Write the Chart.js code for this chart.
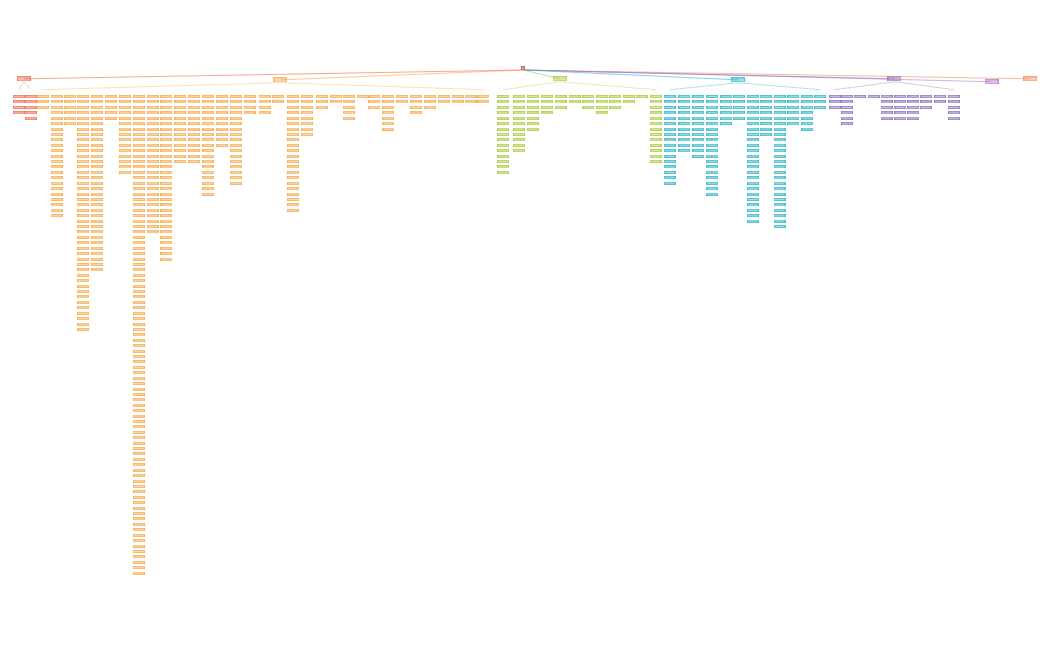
<!DOCTYPE html>
<html>
<head>
<meta charset="UTF-8">
<script src="https://cdn.jsdelivr.net/npm/chart.js"></script>
<style>
  html, body { margin: 0; background: #fff; }
  #wrap { width: 1050px; height: 650px; }
</style>
</head>
<body>
<div id="wrap"><canvas id="map"></canvas></div>
<script>
// branches of the mind map
const branchNames = ['Branch A', 'Branch B', 'Branch C', 'Branch D', 'Branch E', 'Branch F', 'Branch G'];
const branchColors = ['#f26b4f', '#f5a94a', '#a8c93a', '#2bb5c8', '#8a6fc0', '#b57bc7', '#f58a5a'];
const branchX = [19, 278, 560, 740, 898, 996, 1035];
const branchY = [75, 76, 75, 76, 75, 78, 75];
// columns under each branch: x position and number of leaf nodes
const colBranch = [0,0,
  1,1,1,1,1,1,1,1,1,1,1,1,1,1,1,1,1,1,1,1,1,1,1,1,1,1,1,1,1,1,1,1,1,
  2,2,2,2,2,2,2,2,2,2,2,2,
  3,3,3,3,3,3,3,3,3,3,3,3,
  4,4,4,4,4,4,4,4,4,4];
const colX = [14, 26,
  38,52,66,79,93,107,121,135,149,163,177,191,205,219,233,247,262,276,291,305,320,334,347,361,373,387,401,415,429,443,457,470,483,
  503,519,533,547,561,575,589,603,616,630,643,657,
  671,686,700,714,728,741,755,768,782,796,810,823,
  838,850,863,877,890,904,917,930,944,958];
const colCount = [3, 4,
  2,22,5,43,32,4,14,88,25,30,12,12,18,9,16,3,3,1,21,7,2,1,4,0,2,6,1,3,2,1,1,1,1,
  14,10,6,3,2,1,2,3,2,1,0,12,
  16,10,11,18,5,4,23,7,24,5,6,2,
  2,5,0,0,4,4,4,2,1,4];
const nodeStep = 5.5;
const nodeTop = 93;

function rectImg(color, w, h) {
  const c = document.createElement('canvas');
  c.width = w; c.height = h;
  const g = c.getContext('2d');
  g.fillStyle = color; g.globalAlpha = 0.45; g.fillRect(0, 0, w, h);
  g.globalAlpha = 1; g.strokeStyle = color; g.lineWidth = 0.6; g.strokeRect(0.3, 0.3, w - 0.6, h - 0.6);
  return c;
}

const datasets = [];
// connectors root -> branches
branchNames.forEach((n, i) => {
  datasets.push({
    type: 'line', data: [{x: 523, y: 66}, {x: branchX[i], y: branchY[i]}],
    borderColor: branchColors[i] + '99', borderWidth: 1, pointRadius: 0
  });
});
// connector bars across each branch's columns
branchNames.forEach((n, b) => {
  const xs = colX.filter((x, i) => colBranch[i] === b);
  if (!xs.length) return;
  datasets.push({
    type: 'line', data: [{x: Math.min(...xs), y: 86}, {x: branchX[b], y: branchY[b] + 3}, {x: Math.max(...xs), y: 86}],
    borderColor: branchColors[b] + '88', borderWidth: 0.7, pointRadius: 0
  });
});
// leaf nodes
branchNames.forEach((n, b) => {
  const pts = [];
  colX.forEach((x, i) => {
    if (colBranch[i] !== b) return;
    for (let k = 0; k <= colCount[i]; k++) pts.push({x: x, y: nodeTop + k * nodeStep});
  });
  datasets.push({ type: 'scatter', data: pts, pointStyle: rectImg(branchColors[b], 12, 3) });
});
// branch headers
datasets.push({
  type: 'scatter',
  data: branchX.map((x, i) => ({x: x, y: branchY[i]})),
  pointStyle: branchX.map((x, i) => rectImg(branchColors[i], 14, 5))
});
// root
datasets.push({ type: 'scatter', data: [{x: 523, y: 64}], pointStyle: rectImg('#c0392b', 4, 4) });

new Chart(document.getElementById('map'), {
  type: 'scatter',
  data: { datasets },
  options: {
    responsive: true, maintainAspectRatio: false, animation: false,
    layout: { padding: 0 },
    plugins: { legend: { display: false }, tooltip: { enabled: false } },
    scales: {
      x: { type: 'linear', min: 0, max: 1050, display: false },
      y: { type: 'linear', min: 0, max: 650, reverse: true, display: false }
    }
  }
});
</script>
</body>
</html>
